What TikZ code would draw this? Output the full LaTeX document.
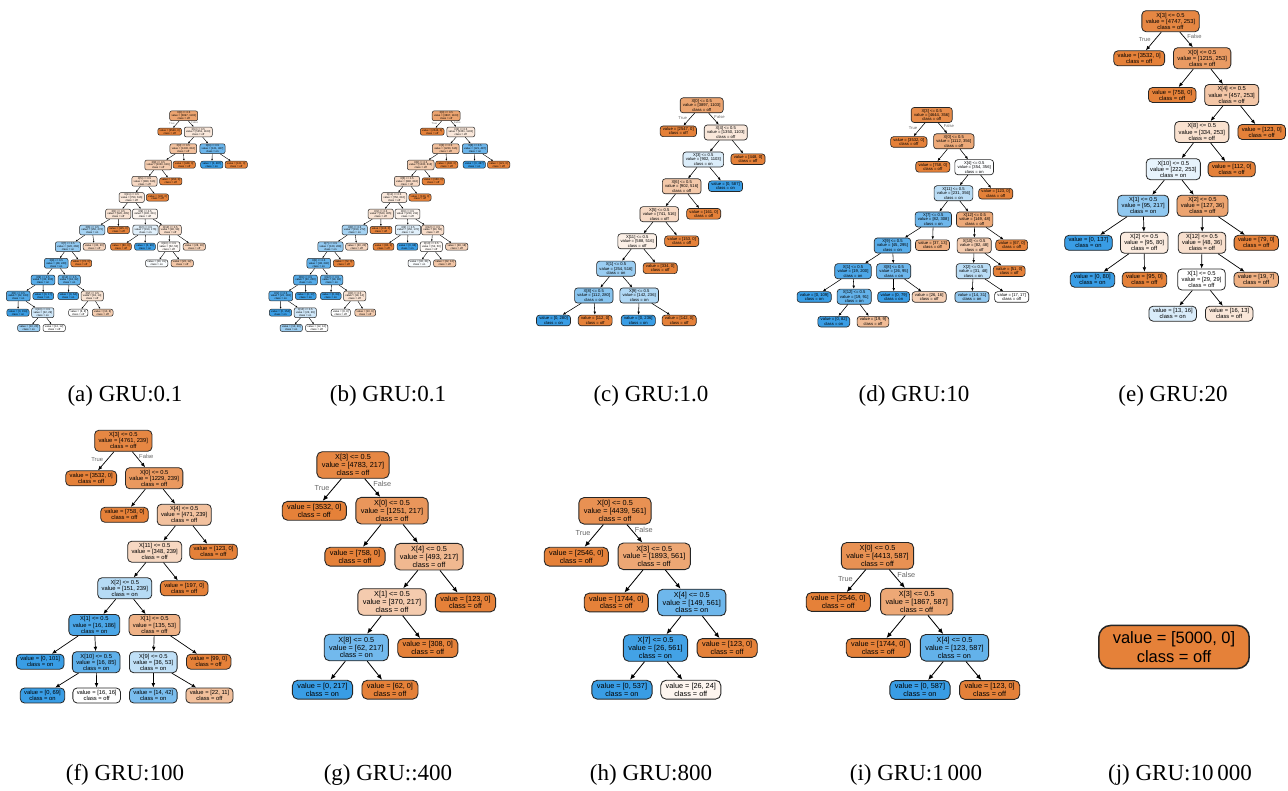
\documentclass[tikz,border=0pt]{standalone}
\usepackage{fontspec}
\setmainfont{Liberation Serif}
\newfontfamily\treefont{Liberation Sans}
\usetikzlibrary{arrows.meta,positioning}
\definecolor{offC}{RGB}{229,129,57}
\definecolor{onC}{RGB}{57,157,229}
\newcommand{\dsplit}[3]{X[#1] <= 0.5\\value = [#2]\\class = #3}
\newcommand{\dleaf}[2]{value = [#1]\\class = #2}
\tikzset{
  tn/.style={draw=black!85, rectangle, align=center},
  cOff/.style={fill=offC!#1},
  cOn/.style={fill=onC!#1},
  sa/.style={tn, font=\treefont\fontsize{2.7}{2.85}\selectfont, inner xsep=1.8pt, inner ysep=1.1pt, rounded corners=2pt, line width=0.5pt},
  sc/.style={tn, font=\treefont\fontsize{4.15}{4.4}\selectfont, inner xsep=2.8pt, inner ysep=1.6pt, rounded corners=3pt, line width=0.65pt},
  se/.style={tn, font=\treefont\fontsize{5.8}{6.1}\selectfont, inner xsep=3.9pt, inner ysep=2.3pt, rounded corners=4.2pt, line width=0.8pt},
  sg/.style={tn, font=\treefont\fontsize{7.3}{7.7}\selectfont, inner xsep=5pt, inner ysep=2.9pt, rounded corners=5.3pt, line width=0.9pt},
  sj/.style={tn, font=\treefont\fontsize{16.5}{19}\selectfont, inner xsep=14pt, inner ysep=6pt, rounded corners=12pt, line width=1.5pt},
  ea/.style={draw, line width=0.4pt, -{Latex[length=2pt,width=1.7pt]}},
  ec/.style={draw, line width=0.55pt, -{Latex[length=3.2pt,width=2.6pt]}},
  ee/.style={draw, line width=0.7pt, -{Latex[length=4.5pt,width=3.7pt]}},
  eg/.style={draw, line width=0.85pt, -{Latex[length=5.6pt,width=4.6pt]}},
  tfa/.style={font=\treefont\fontsize{2.7}{3}\selectfont, text=black!60, inner sep=0.3pt},
  tfc/.style={font=\treefont\fontsize{4.15}{5}\selectfont, text=black!60, inner sep=0.5pt},
  tfe/.style={font=\treefont\fontsize{5.8}{7}\selectfont, text=black!60, inner sep=0.7pt},
  tfg/.style={font=\treefont\fontsize{7.3}{8}\selectfont, text=black!60, inner sep=1pt},
  capt/.style={font=\fontsize{23}{27}\selectfont},
}
\begin{document}
\begin{tikzpicture}[x=1pt,y=-1pt]
\useasboundingbox (0,0) rectangle (1288,791);

%(a) and (b): the two GRU:0.1 trees
\foreach \t/\dx in {a/0,b/262.5}{
\begin{scope}[xshift=\dx pt]
  \node[sa, cOff=72] (\t0) at (183.7,115.8) {\dsplit{0}{3897, 1103}{off}};
  \node[sa, cOff=100] (\t1) at (169.7,131.7) {\dleaf{2546, 0}{off}};
  \node[sa, cOff=18] (\t2) at (198.3,132) {\dsplit{4}{1351, 1103}{off}};
  \node[sa, cOff=50] (\t3) at (183.3,148.7) {\dsplit{3}{1230, 616}{off}};
  \node[sa, cOn=75] (\t4) at (212.5,148.7) {\dsplit{6}{121, 487}{on}};
  \node[sa, cOff=100] (\t5) at (184.2,164.7) {\dleaf{448, 0}{off}};
  \node[sa, cOn=100] (\t6) at (211.8,164.7) {\dleaf{0, 487}{on}};
  \node[sa, cOff=100] (\t7) at (236.2,164.7) {\dleaf{121, 0}{off}};
  \node[sa, cOff=40] (\t8) at (158.2,165) {\dsplit{8}{1030, 616}{off}};
  \node[sa, cOff=30] (\t9) at (144.5,181.3) {\dsplit{5}{880, 616}{off}};
  \node[sa, cOff=100] (\t10) at (170.8,181.3) {\dleaf{150, 0}{off}};
  \node[sa, cOff=18] (\t11) at (131.7,197.5) {\dsplit{11}{750, 616}{off}};
  \node[sa, cOff=100] (\t12) at (157.5,197.5) {\dleaf{130, 0}{off}};
  \node[sa, cOff=22] (\t13) at (118.2,214) {\dsplit{1}{520, 405}{off}};
  \node[sa, cOff=8] (\t14) at (145,214) {\dsplit{9}{230, 211}{off}};
  \node[sa, cOn=45] (\t15) at (92.2,230) {\dsplit{6}{150, 272}{on}};
  \node[sa, cOff=100] (\t16) at (118.5,230) {\dleaf{115, 0}{off}};
  \node[sa, cOn=15] (\t17) at (145.5,230) {\dsplit{2}{150, 176}{on}};
  \node[sa, cOff=27] (\t18) at (170.2,230) {\dsplit{12}{80, 58}{off}};
  \node[sa, cOn=55] (\t19) at (68,246.7) {\dsplit{7}{120, 268}{on}};
  \node[sa, cOff=33] (\t20) at (94.3,246.7) {\dleaf{30, 20}{off}};
  \node[sa, cOff=100] (\t21) at (121,246.7) {\dleaf{80, 0}{off}};
  \node[sa, cOn=100] (\t22) at (145,246.7) {\dleaf{0, 96}{on}};
  \node[sa, cOff=4] (\t23) at (168.8,246.7) {\dsplit{10}{52, 50}{off}};
  \node[sa, cOff=36] (\t24) at (194.3,246.7) {\dleaf{28, 18}{off}};
  \node[sa, cOn=80] (\t25) at (56.3,263.3) {\dsplit{8}{48, 240}{on}};
  \node[sa, cOff=100] (\t26) at (81.3,263.3) {\dleaf{72, 0}{off}};
  \node[sa, cOn=3] (\t27) at (156.7,263.3) {\dleaf{30, 31}{on}};
  \node[sa, cOff=45] (\t28) at (182.2,263.3) {\dleaf{22, 12}{off}};
  \node[sa, cOn=85] (\t29) at (43,280) {\dsplit{9}{30, 200}{on}};
  \node[sa, cOn=78] (\t30) at (69.2,280) {\dsplit{12}{18, 82}{on}};
  \node[sa, cOn=88] (\t31) at (18.3,296) {\dsplit{1}{22, 183}{on}};
  \node[sa, cOn=100] (\t32) at (43.3,296) {\dleaf{0, 17}{on}};
  \node[sa, cOn=100] (\t33) at (68.3,296) {\dleaf{0, 64}{on}};
  \node[sa, cOff=22] (\t34) at (92.2,296) {\dsplit{2}{18, 14}{off}};
  \node[sa, cOn=100] (\t35) at (18,312.7) {\dleaf{0, 154}{on}};
  \node[sa, cOn=24] (\t36) at (42.8,312.7) {\dsplit{10}{22, 29}{on}};
  \node[sa, cOff=0] (\t37) at (78.3,312.7) {\dleaf{8, 8}{off}};
  \node[sa, cOff=40] (\t38) at (102.7,312.7) {\dleaf{10, 6}{off}};
  \node[sa, cOn=50] (\t39) at (28.8,328) {\dleaf{10, 20}{on}};
  \node[sa, cOff=0] (\t40) at (54.2,328) {\dleaf{12, 12}{off}};
  \path[ea] (\t0) -- node[tfa, pos=.4, left=1.5pt]{True} (\t1);
  \path[ea] (\t0) -- node[tfa, pos=.3, right=1pt]{False} (\t2);
  \foreach \p/\c in {2/3,2/4,4/6,4/7,3/8,3/5,8/9,8/10,9/11,9/12,11/13,11/14,
      13/15,13/16,14/17,14/18,15/19,15/20,17/21,17/22,18/23,18/24,19/25,19/26,
      23/27,23/28,25/29,25/30,29/31,29/32,30/33,30/34,31/35,31/36,34/37,34/38,36/39,36/40}
    \path[ea] (\t\p) -- (\t\c);
\end{scope}
}

%(c) GRU:1.0
\node[sc, cOff=72] (c0) at (701.7,105.3) {\dsplit{0}{3897, 1103}{off}};
\node[sc, cOff=100] (c1) at (678.3,131.3) {\dleaf{2547, 0}{off}};
\node[sc, cOff=18] (c2) at (725.8,132.5) {\dsplit{4}{1350, 1103}{off}};
\node[sc, cOn=18] (c3) at (703.3,159.5) {\dsplit{3}{902, 1103}{on}};
\node[sc, cOff=100] (c4) at (748,159.2) {\dleaf{448, 0}{off}};
\node[sc, cOff=43] (c5) at (681.7,186.3) {\dsplit{6}{902, 516}{off}};
\node[sc, cOn=100] (c6) at (725.5,186.2) {\dleaf{0, 587}{on}};
\node[sc, cOff=30] (c7) at (659.3,214.2) {\dsplit{5}{741, 516}{off}};
\node[sc, cOff=100] (c8) at (703.7,213.8) {\dleaf{161, 0}{off}};
\node[sc, cOff=12] (c9) at (637.2,241.3) {\dsplit{11}{588, 516}{off}};
\node[sc, cOff=100] (c10) at (681.7,241.2) {\dleaf{153, 0}{off}};
\node[sc, cOn=51] (c11) at (616,268.7) {\dsplit{1}{254, 516}{on}};
\node[sc, cOff=100] (c12) at (660.2,268.3) {\dleaf{334, 0}{off}};
\node[sc, cOn=60] (c13) at (593.8,295.5) {\dsplit{8}{112, 280}{on}};
\node[sc, cOn=40] (c14) at (639.2,295.5) {\dsplit{9}{142, 236}{on}};
\node[sc, cOn=100] (c15) at (553.5,320.5) {\dleaf{0, 280}{on}};
\node[sc, cOff=100] (c16) at (595.2,320.5) {\dleaf{112, 0}{off}};
\node[sc, cOn=100] (c17) at (638.3,320.5) {\dleaf{0, 236}{on}};
\node[sc, cOff=100] (c18) at (679.2,320.5) {\dleaf{142, 0}{off}};
\path[ec] (c0) -- node[tfc, pos=.4, left=2.5pt]{True} (c1);
\path[ec] (c0) -- node[tfc, pos=.3, right=2pt]{False} (c2);
\foreach \p/\c in {c2/c3,c2/c4,c3/c5,c3/c6,c5/c7,c5/c8,c7/c9,c7/c10,
    c9/c11,c9/c12,c11/c13,c11/c14,c13/c15,c13/c16,c14/c17,c14/c18}
  \path[ec] (\p) -- (\c);

%(d) GRU:10
\node[sc, cOff=92] (d0) at (931.7,115) {\dsplit{3}{4644, 356}{off}};
\node[sc, cOff=100] (d1) at (908.8,142) {\dleaf{3532, 0}{off}};
\node[sc, cOff=68] (d2) at (953.8,141.3) {\dsplit{0}{1112, 356}{off}};
\node[sc, cOff=100] (d3) at (932.8,166.8) {\dleaf{758, 0}{off}};
\node[sc, cOn=1] (d4) at (974.2,167.2) {\dsplit{4}{354, 356}{on}};
\node[sc, cOn=35] (d5) at (953.5,193.2) {\dsplit{11}{231, 356}{on}};
\node[sc, cOff=100] (d6) at (995.7,193.7) {\dleaf{123, 0}{off}};
\node[sc, cOn=73] (d7) at (933.3,219.5) {\dsplit{7}{82, 308}{on}};
\node[sc, cOff=68] (d8) at (974.7,219.5) {\dsplit{12}{149, 48}{off}};
\node[sc, cOn=85] (d9) at (892.5,245.5) {\dsplit{9}{45, 295}{on}};
\node[sc, cOff=65] (d10) at (932.5,245.2) {\dleaf{37, 13}{off}};
\node[sc, cOff=41] (d11) at (974.2,245.5) {\dsplit{10}{82, 48}{off}};
\node[sc, cOff=100] (d12) at (1011.7,245.2) {\dleaf{67, 0}{off}};
\node[sc, cOn=90] (d13) at (853,271.2) {\dsplit{1}{19, 200}{on}};
\node[sc, cOn=73] (d14) at (893.7,271.2) {\dsplit{8}{26, 95}{on}};
\node[sc, cOn=35] (d15) at (973.3,271.2) {\dsplit{2}{31, 48}{on}};
\node[sc, cOff=100] (d16) at (1009.2,271.2) {\dleaf{51, 0}{off}};
\node[sc, cOn=100] (d17) at (814.2,297) {\dleaf{0, 109}{on}};
\node[sc, cOn=79] (d18) at (854.2,296.7) {\dsplit{12}{19, 91}{on}};
\node[sc, cOn=100] (d19) at (893.7,297) {\dleaf{0, 79}{on}};
\node[sc, cOff=38] (d20) at (929.2,297) {\dleaf{26, 16}{off}};
\node[sc, cOn=55] (d21) at (972,297) {\dleaf{14, 31}{on}};
\node[sc, cOff=0] (d22) at (1011.7,297) {\dleaf{17, 17}{off}};
\node[sc, cOn=100] (d23) at (833.8,321.7) {\dleaf{0, 82}{on}};
\node[sc, cOff=53] (d24) at (873,321.7) {\dleaf{19, 9}{off}};
\path[ec] (d0) -- node[tfc, pos=.4, left=2.5pt]{True} (d1);
\path[ec] (d0) -- node[tfc, pos=.3, right=2pt]{False} (d2);
\foreach \p/\c in {d2/d3,d2/d4,d4/d5,d4/d6,d5/d7,d5/d8,d7/d9,d7/d10,d8/d11,d8/d12,
    d9/d13,d9/d14,d11/d15,d11/d16,d13/d17,d13/d18,d14/d19,d14/d20,d15/d21,d15/d22,d18/d23,d18/d24}
  \path[ec] (\p) -- (\c);

%(e) GRU:20
\node[se, cOff=95] (e0) at (1170.5,21.2) {\dsplit{3}{4747, 253}{off}};
\node[se, cOff=100] (e1) at (1139.2,58.3) {\dleaf{3532, 0}{off}};
\node[se, cOff=79] (e2) at (1202.2,58.2) {\dsplit{0}{1215, 253}{off}};
\node[se, cOff=100] (e3) at (1172.2,95) {\dleaf{758, 0}{off}};
\node[se, cOff=45] (e4) at (1231.7,95) {\dsplit{4}{457, 253}{off}};
\node[se, cOff=24] (e5) at (1201.8,132) {\dsplit{8}{334, 253}{off}};
\node[se, cOff=100] (e6) at (1261.7,132) {\dleaf{123, 0}{off}};
\node[se, cOn=12] (e7) at (1173.3,169.2) {\dsplit{10}{222, 253}{on}};
\node[se, cOff=100] (e8) at (1231.7,169.2) {\dleaf{112, 0}{off}};
\node[se, cOn=56] (e9) at (1143.2,205.8) {\dsplit{1}{95, 217}{on}};
\node[se, cOff=72] (e10) at (1202.5,205.8) {\dsplit{2}{127, 36}{off}};
\node[se, cOn=100] (e11) at (1088.5,242.8) {\dleaf{0, 137}{on}};
\node[se, cOff=16] (e12) at (1144.2,242.8) {\dsplit{2}{95, 80}{off}};
\node[se, cOff=25] (e13) at (1202,242.8) {\dsplit{12}{48, 36}{off}};
\node[se, cOff=100] (e14) at (1256.3,242.8) {\dleaf{79, 0}{off}};
\node[se, cOn=100] (e15) at (1092.5,279.7) {\dleaf{0, 80}{on}};
\node[se, cOff=100] (e16) at (1144.5,279.7) {\dleaf{95, 0}{off}};
\node[se, cOff=0] (e17) at (1201.5,279.5) {\dsplit{1}{29, 29}{off}};
\node[se, cOff=63] (e18) at (1256.2,279.7) {\dleaf{19, 7}{off}};
\node[se, cOn=19] (e19) at (1172.7,313.7) {\dleaf{13, 16}{on}};
\node[se, cOff=19] (e20) at (1229.2,313.7) {\dleaf{16, 13}{off}};
\path[ee] (e0) -- node[tfe, pos=.4, left=3.5pt]{True} (e1);
\path[ee] (e0) -- node[tfe, pos=.3, right=2.5pt]{False} (e2);
\foreach \p/\c in {e2/e3,e2/e4,e4/e5,e4/e6,e5/e7,e5/e8,e7/e9,e7/e10,e9/e11,e9/e12,
    e10/e13,e10/e14,e12/e15,e12/e16,e13/e17,e13/e18,e17/e19,e17/e20}
  \path[ee] (\p) -- (\c);

%(f) GRU:100
\node[se, cOff=95] (f0) at (123.3,440.8) {\dsplit{3}{4761, 239}{off}};
\node[se, cOff=100] (f1) at (91.2,478.3) {\dleaf{3532, 0}{off}};
\node[se, cOff=81] (f2) at (154.2,478.2) {\dsplit{0}{1229, 239}{off}};
\node[se, cOff=100] (f3) at (124.5,514.8) {\dleaf{758, 0}{off}};
\node[se, cOff=49] (f4) at (184.2,514.8) {\dsplit{4}{471, 239}{off}};
\node[se, cOff=31] (f5) at (154.7,551.7) {\dsplit{11}{348, 239}{off}};
\node[se, cOff=100] (f6) at (213.5,551.7) {\dleaf{123, 0}{off}};
\node[se, cOn=37] (f7) at (124.8,588.3) {\dsplit{2}{151, 239}{on}};
\node[se, cOff=100] (f8) at (184.2,588.3) {\dleaf{197, 0}{off}};
\node[se, cOn=91] (f9) at (94.3,625) {\dsplit{1}{16, 186}{on}};
\node[se, cOff=61] (f10) at (154.5,625) {\dsplit{1}{135, 53}{off}};
\node[se, cOn=100] (f11) at (40.2,661.7) {\dleaf{0, 101}{on}};
\node[se, cOn=81] (f12) at (96.2,662.2) {\dsplit{10}{16, 85}{on}};
\node[se, cOn=32] (f13) at (153.3,662.2) {\dsplit{9}{36, 53}{on}};
\node[se, cOff=100] (f14) at (208.7,661.7) {\dleaf{99, 0}{off}};
\node[se, cOn=100] (f15) at (42.5,695.5) {\dleaf{0, 69}{on}};
\node[se, cOff=0] (f16) at (96.7,695.5) {\dleaf{16, 16}{off}};
\node[se, cOn=67] (f17) at (153.3,695.5) {\dleaf{14, 42}{on}};
\node[se, cOff=50] (f18) at (209.5,695.5) {\dleaf{22, 11}{off}};
\path[ee] (f0) -- node[tfe, pos=.4, left=3.5pt]{True} (f1);
\path[ee] (f0) -- node[tfe, pos=.3, right=2pt]{False} (f2);
\foreach \p/\c in {f2/f3,f2/f4,f4/f5,f4/f6,f5/f7,f5/f8,f7/f9,f7/f10,f9/f11,f9/f12,
    f10/f13,f10/f14,f12/f15,f12/f16,f13/f17,f13/f18}
  \path[ee] (\p) -- (\c);

%(g) GRU::400
\node[sg, cOff=95] (g0) at (353,465) {\dsplit{3}{4783, 217}{off}};
\node[sg, cOff=100] (g1) at (314.3,510.8) {\dleaf{3532, 0}{off}};
\node[sg, cOff=83] (g2) at (392,510.7) {\dsplit{0}{1251, 217}{off}};
\node[sg, cOff=100] (g3) at (355,556.7) {\dleaf{758, 0}{off}};
\node[sg, cOff=56] (g4) at (429,556.7) {\dsplit{4}{493, 217}{off}};
\node[sg, cOff=41] (g5) at (392,602) {\dsplit{1}{370, 217}{off}};
\node[sg, cOff=100] (g6) at (465.5,602.5) {\dleaf{123, 0}{off}};
\node[sg, cOn=71] (g7) at (356.3,647.5) {\dsplit{8}{62, 217}{on}};
\node[sg, cOff=100] (g8) at (427.8,648) {\dleaf{308, 0}{off}};
\node[sg, cOn=100] (g9) at (322.5,689.7) {\dleaf{0, 217}{on}};
\node[sg, cOff=100] (g10) at (390,689.7) {\dleaf{62, 0}{off}};
\path[eg] (g0) -- node[tfg, pos=.4, left=3pt]{True} (g1);
\path[eg] (g0) -- node[tfg, pos=.3, right=2.5pt]{False} (g2);
\foreach \p/\c in {g2/g3,g2/g4,g4/g5,g4/g6,g5/g7,g5/g8,g7/g9,g7/g10}
  \path[eg] (\p) -- (\c);

%(h) GRU:800
\node[sg, cOff=87] (h0) at (615,510.8) {\dsplit{0}{4439, 561}{off}};
\node[sg, cOff=100] (h1) at (576.3,556.7) {\dleaf{2546, 0}{off}};
\node[sg, cOff=70] (h2) at (654.2,556.3) {\dsplit{3}{1893, 561}{off}};
\node[sg, cOff=100] (h3) at (616.3,602.5) {\dleaf{1744, 0}{off}};
\node[sg, cOn=73] (h4) at (691.8,602.5) {\dsplit{4}{149, 561}{on}};
\node[sg, cOn=95] (h5) at (655.5,648) {\dsplit{7}{26, 561}{on}};
\node[sg, cOff=100] (h6) at (727.2,648) {\dleaf{123, 0}{off}};
\node[sg, cOn=100] (h7) at (622,689.7) {\dleaf{0, 537}{on}};
\node[sg, cOff=8] (h8) at (690.8,689.7) {\dleaf{26, 24}{off}};
\path[eg] (h0) -- node[tfg, pos=.4, left=4pt]{True} (h1);
\path[eg] (h0) -- node[tfg, pos=.3, right=2pt]{False} (h2);
\foreach \p/\c in {h2/h3,h2/h4,h4/h5,h4/h6,h5/h7,h5/h8}
  \path[eg] (\p) -- (\c);

%(i) GRU:1 000
\node[sg, cOff=87] (i0) at (877.5,555.8) {\dsplit{0}{4413, 587}{off}};
\node[sg, cOff=100] (i1) at (838.3,602) {\dleaf{2546, 0}{off}};
\node[sg, cOff=69] (i2) at (916.7,601.7) {\dsplit{3}{1867, 587}{off}};
\node[sg, cOff=100] (i3) at (878.3,648) {\dleaf{1744, 0}{off}};
\node[sg, cOn=79] (i4) at (954.5,647.8) {\dsplit{4}{123, 587}{on}};
\node[sg, cOn=100] (i5) at (920,690) {\dleaf{0, 587}{on}};
\node[sg, cOff=100] (i6) at (989.7,690) {\dleaf{123, 0}{off}};
\path[eg] (i0) -- node[tfg, pos=.4, left=4pt]{True} (i1);
\path[eg] (i0) -- node[tfg, pos=.3, right=2pt]{False} (i2);
\foreach \p/\c in {i2/i3,i2/i4,i4/i5,i4/i6}
  \path[eg] (\p) -- (\c);

%(j) GRU:10 000
\node[sj, cOff=100] (j0) at (1174,647) {\dleaf{5000, 0}{off}};

%captions
\node[capt] (capa) at (125,396) {(a) GRU:0.1};
\node[capt] (capb) at (388,396) {(b) GRU:0.1};
\node[capt] (capc) at (651,396) {(c) GRU:1.0};
\node[capt] (capd) at (914,396) {(d) GRU:10};
\node[capt] (cape) at (1173,396) {(e) GRU:20};
\node[capt] (capf) at (125,775) {(f) GRU:100};
\node[capt] (capg) at (388,775) {(g) GRU::400};
\node[capt] (caph) at (651,775) {(h) GRU:800};
\node[capt] (capi) at (916,775) {(i) GRU:1\,000};
\node[capt] (capj) at (1180,775) {(j) GRU:10\,000};
\end{tikzpicture}
\end{document}
